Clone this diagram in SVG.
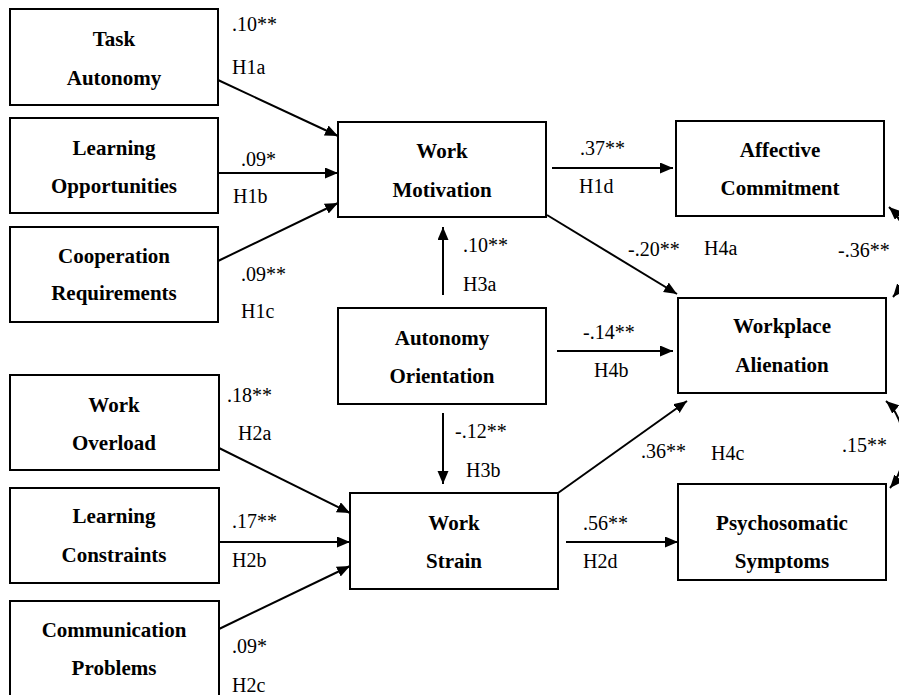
<svg xmlns="http://www.w3.org/2000/svg" width="899" height="695" viewBox="0 0 899 695">
<defs>
<marker id="ah" markerWidth="14" markerHeight="12" refX="13" refY="5.5" orient="auto-start-reverse" markerUnits="userSpaceOnUse">
<path d="M0,0 L13,5.5 L0,11 z" fill="#000"/>
</marker>
<style>
.box{fill:#fff;stroke:#000;stroke-width:2}
.t{font-weight:bold;font-size:21px;text-anchor:middle;fill:#000}
.l{font-size:20px;fill:#000}
.c{fill:none;stroke:#000;stroke-width:2;marker-end:url(#ah)}
.d{fill:none;stroke:#000;stroke-width:2;marker-start:url(#ah);marker-end:url(#ah)}
</style>
</defs>
<rect width="899" height="695" fill="#fff"/>
<g id="connectors">
<line class="c" x1="218" y1="80" x2="338" y2="136"/>
<line class="c" x1="218" y1="173" x2="338" y2="173"/>
<line class="c" x1="218" y1="261" x2="338" y2="203"/>
<line class="c" x1="552" y1="168" x2="673" y2="168"/>
<line class="c" x1="547" y1="215" x2="677" y2="294"/>
<line class="c" x1="443" y1="295" x2="443" y2="227"/>
<line class="c" x1="557" y1="351" x2="673" y2="351"/>
<line class="c" x1="443" y1="413" x2="443" y2="484"/>
<line class="c" x1="219" y1="448" x2="350" y2="513"/>
<line class="c" x1="219" y1="542" x2="350" y2="542"/>
<line class="c" x1="219" y1="629" x2="350" y2="566"/>
<line class="c" x1="558" y1="493" x2="687" y2="401"/>
<line class="c" x1="566" y1="542" x2="678" y2="542"/>
<path class="d" d="M889,207 C912,228 914,272 893,297"/>
<path class="d" d="M886,401 C908,420 910,465 890,488"/>
</g>
<g font-family="'Liberation Serif', 'Times New Roman', 'DejaVu Serif', serif">
<g id="task-autonomy"><rect class="box" x="10" y="9" width="208" height="96"/><text class="t" x="114" y="46">Task</text><text class="t" x="114" y="85">Autonomy</text></g>
<g id="learning-opportunities"><rect class="box" x="10" y="118" width="208" height="95"/><text class="t" x="114" y="155">Learning</text><text class="t" x="114" y="193">Opportunities</text></g>
<g id="cooperation-requirements"><rect class="box" x="10" y="227" width="208" height="95"/><text class="t" x="114" y="263">Cooperation</text><text class="t" x="114" y="300">Requirements</text></g>
<g id="work-motivation"><rect class="box" x="338" y="122" width="208" height="95"/><text class="t" x="442" y="158">Work</text><text class="t" x="442" y="197">Motivation</text></g>
<g id="affective-commitment"><rect class="box" x="676" y="121" width="208" height="95"/><text class="t" x="780" y="157">Affective</text><text class="t" x="780" y="195">Commitment</text></g>
<g id="autonomy-orientation"><rect class="box" x="338" y="308" width="208" height="96"/><text class="t" x="442" y="345">Autonomy</text><text class="t" x="442" y="383">Orientation</text></g>
<g id="workplace-alienation"><rect class="box" x="678" y="298" width="208" height="95"/><text class="t" x="782" y="333">Workplace</text><text class="t" x="782" y="372">Alienation</text></g>
<g id="work-overload"><rect class="box" x="10" y="375" width="209" height="95"/><text class="t" x="114" y="412">Work</text><text class="t" x="114" y="450">Overload</text></g>
<g id="learning-constraints"><rect class="box" x="10" y="488" width="209" height="95"/><text class="t" x="114" y="523">Learning</text><text class="t" x="114" y="562">Constraints</text></g>
<g id="communication-problems"><rect class="box" x="10" y="601" width="209" height="96"/><text class="t" x="114" y="637">Communication</text><text class="t" x="114" y="675">Problems</text></g>
<g id="work-strain"><rect class="box" x="350" y="493" width="208" height="96"/><text class="t" x="454" y="530">Work</text><text class="t" x="454" y="568">Strain</text></g>
<g id="psychosomatic-symptoms"><rect class="box" x="678" y="484" width="208" height="96"/><text class="t" x="782" y="530">Psychosomatic</text><text class="t" x="782" y="568">Symptoms</text></g>
<g id="labels">
<text class="l" x="232" y="31">.10**</text>
<text class="l" x="232" y="74">H1a</text>
<text class="l" x="241" y="166">.09*</text>
<text class="l" x="233" y="203">H1b</text>
<text class="l" x="241" y="281">.09**</text>
<text class="l" x="241" y="318">H1c</text>
<text class="l" x="580" y="155">.37**</text>
<text class="l" x="579" y="193">H1d</text>
<text class="l" x="463" y="252">.10**</text>
<text class="l" x="463" y="291">H3a</text>
<text class="l" x="628" y="256">-.20**</text>
<text class="l" x="704" y="255">H4a</text>
<text class="l" x="838" y="257">-.36**</text>
<text class="l" x="583" y="339">-.14**</text>
<text class="l" x="594" y="377">H4b</text>
<text class="l" x="227" y="402">.18**</text>
<text class="l" x="238" y="440">H2a</text>
<text class="l" x="455" y="438">-.12**</text>
<text class="l" x="466" y="477">H3b</text>
<text class="l" x="842" y="452">.15**</text>
<text class="l" x="641" y="458">.36**</text>
<text class="l" x="711" y="460">H4c</text>
<text class="l" x="232" y="528">.17**</text>
<text class="l" x="232" y="567">H2b</text>
<text class="l" x="583" y="530">.56**</text>
<text class="l" x="583" y="568">H2d</text>
<text class="l" x="232" y="653">.09*</text>
<text class="l" x="232" y="692">H2c</text>
</g>
</g>
</svg>
